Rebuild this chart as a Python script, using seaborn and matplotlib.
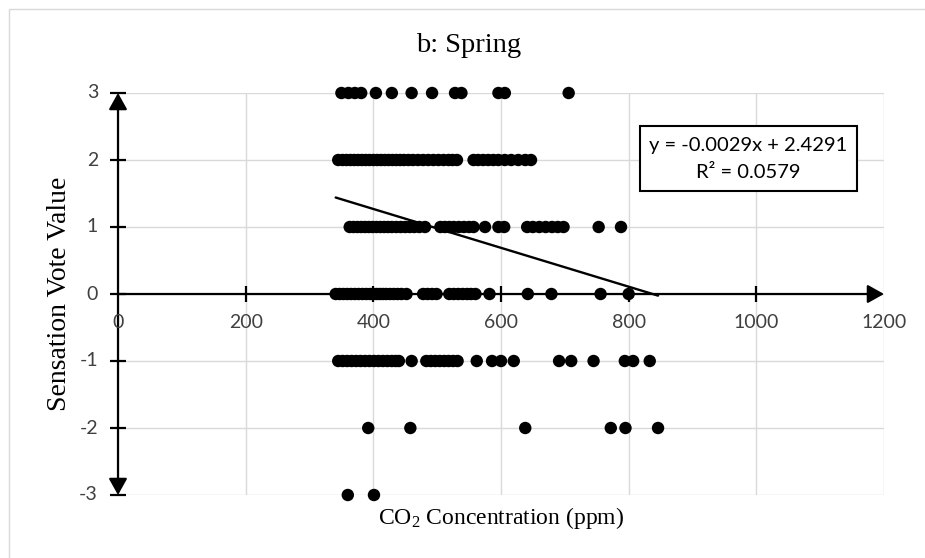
import matplotlib
matplotlib.use("Agg")
import matplotlib.pyplot as plt
import matplotlib.transforms as mtransforms
from matplotlib.patches import Rectangle
import numpy as np
import pandas as pd
import seaborn as sns

# CO2 concentration (ppm) of each vote, grouped by sensation vote value
co2_vote_p3 = [350, 361, 371, 381, 404, 429, 460, 492, 528, 538, 596, 606, 706]
co2_vote_p2 = [345, 352, 358, 364, 370, 376, 382, 388, 394, 400, 406, 412, 418,
               424, 430, 436, 442, 448, 455, 462, 470, 478, 486, 494, 502, 510,
               518, 524, 531, 557, 564, 572, 580, 588, 596, 606, 616, 627, 638, 647]
co2_vote_p1 = [363, 369, 375, 381, 387, 393, 399, 405, 411, 417, 423, 429, 436,
               443, 450, 457, 464, 472, 481, 505, 512, 519, 526, 534, 542, 550,
               557, 575, 596, 605, 641, 650, 660, 670, 680, 689, 698, 753, 788]
co2_vote_0 = [341, 347, 353, 359, 365, 371, 377, 383, 389, 395, 400, 405, 410,
              415, 420, 426, 432, 438, 444, 452, 478, 485, 492, 499, 519, 526,
              533, 540, 547, 553, 560, 582, 642, 679, 756, 800]
co2_vote_m1 = [345, 352, 359, 366, 373, 380, 387, 394, 401, 408, 415, 422, 429,
               435, 440, 460, 483, 490, 497, 504, 511, 518, 525, 532, 562, 586,
               600, 620, 691, 710, 745, 794, 807, 833]
co2_vote_m2 = [392, 458, 638, 772, 795, 846]
co2_vote_m3 = [360, 401]

vote_groups = {3: co2_vote_p3, 2: co2_vote_p2, 1: co2_vote_p1, 0: co2_vote_0,
               -1: co2_vote_m1, -2: co2_vote_m2, -3: co2_vote_m3}

# linear trend reported in the annotation box
trend_slope = -0.0029
trend_intercept = 2.4291
trend_r2 = 0.0579

x_ticks = [0, 200, 400, 600, 800, 1000, 1200]
y_ticks = [-3, -2, -1, 0, 1, 2, 3]

df = pd.DataFrame(
    [(c, v) for v, xs in vote_groups.items() for c in xs],
    columns=["co2", "vote"],
)

sns.set_theme(style="white")
plt.rcParams["mathtext.fontset"] = "custom"
plt.rcParams["mathtext.rm"] = "Liberation Serif"
plt.rcParams["mathtext.it"] = "Liberation Serif:italic"

W, H = 925, 558
fig = plt.figure(figsize=(W / 100, H / 100), dpi=100)
fig.patch.set_facecolor("white")

# chart frame
fig.patches.append(Rectangle((9 / W, -0.1), 1.2, 1 - 9 / H + 0.1,
                             transform=fig.transFigure, fill=False,
                             edgecolor="#d9d9d9", lw=1.0))

left, right, top, bottom = 118, 884, 93, 495
ax = fig.add_axes([left / W, 1 - bottom / H, (right - left) / W, (bottom - top) / H])
ax.set_xlim(0, 1200)
ax.set_ylim(-3, 3)
ax.set_xticks(x_ticks)
ax.set_yticks(y_ticks)
ax.grid(True, color="#d9d9d9", lw=1.0)
ax.tick_params(length=0, labelbottom=False, labelleft=False)
for s in ax.spines.values():
    s.set_visible(False)

# axes crossing at the origin, with arrow heads
ax.annotate("", xy=(1200, 0), xytext=(0, 0),
            arrowprops=dict(arrowstyle="-|>,head_length=0.5,head_width=0.28",
                            color="black", lw=1.6, mutation_scale=20,
                            shrinkA=0, shrinkB=0), annotation_clip=False)
ax.annotate("", xy=(0, 3), xytext=(0, -3),
            arrowprops=dict(arrowstyle="<|-|>,head_length=0.5,head_width=0.28",
                            color="black", lw=1.6, mutation_scale=20,
                            shrinkA=0, shrinkB=0), annotation_clip=False)
ax.plot(x_ticks[1:-1], [0] * (len(x_ticks) - 2), ls="none", marker="|",
        ms=11, mew=1.6, color="black", clip_on=False)
ax.plot([0] * len(y_ticks), y_ticks, ls="none", marker="_",
        ms=11, mew=1.6, color="black", clip_on=False)

# data points
sns.scatterplot(data=df, x="co2", y="vote", ax=ax, color="black", s=80,
                edgecolor="none", clip_on=False, zorder=5, legend=False)
ax.set_xlabel("")
ax.set_ylabel("")

# trend line across the data range
xs = np.array([df["co2"].min(), df["co2"].max()])
ax.plot(xs, trend_slope * xs + trend_intercept, color="black", lw=1.7, zorder=6)

# tick labels placed next to the crossing axes
tick_font = dict(family="Lato", fontsize=14, color="#404040")
off_x = mtransforms.ScaledTranslation(0, -29 / 100, fig.dpi_scale_trans)
for t in x_ticks:
    ax.text(t, 0, f"{t}", transform=ax.transData + off_x,
            ha="center", va="center", **tick_font)
off_y = mtransforms.ScaledTranslation(-20 / 100, 0, fig.dpi_scale_trans)
for t in y_ticks:
    ax.text(0, t, f"{t}", transform=ax.transData + off_y,
            ha="right", va="center", **tick_font)

# titles
serif = "Liberation Serif"
fig.text(469 / W, 1 - 45 / H, "b: Spring", ha="center", va="center",
         family=serif, fontsize=20.5, color="black")
fig.text(501 / W, 1 - 518 / H, r"CO$_2$ Concentration (ppm)", ha="center",
         va="center", family=serif, fontsize=17, color="black")
fig.text(60 / W, 1 - 294 / H, "Sensation Vote Value", ha="center",
         va="center", rotation=90, family=serif, fontsize=20, color="black")

# regression annotation box
bx0, by0, bx1, by1 = 640, 126, 857, 191
fig.patches.append(Rectangle((bx0 / W, 1 - by1 / H), (bx1 - bx0) / W,
                             (by1 - by0) / H, transform=fig.transFigure,
                             facecolor="white", edgecolor="black", lw=1.5,
                             zorder=10))
box_font = dict(family="Lato", fontsize=14.5, color="black", zorder=11)
fig.text(748 / W, 1 - 146 / H,
         f"y = {trend_slope:.4f}x + {trend_intercept:.4f}",
         ha="center", va="center", **box_font)
fig.text(748 / W, 1 - 173 / H, f"R² = {trend_r2:.4f}",
         ha="center", va="center", **box_font)

fig.savefig("out.png", dpi=100)
